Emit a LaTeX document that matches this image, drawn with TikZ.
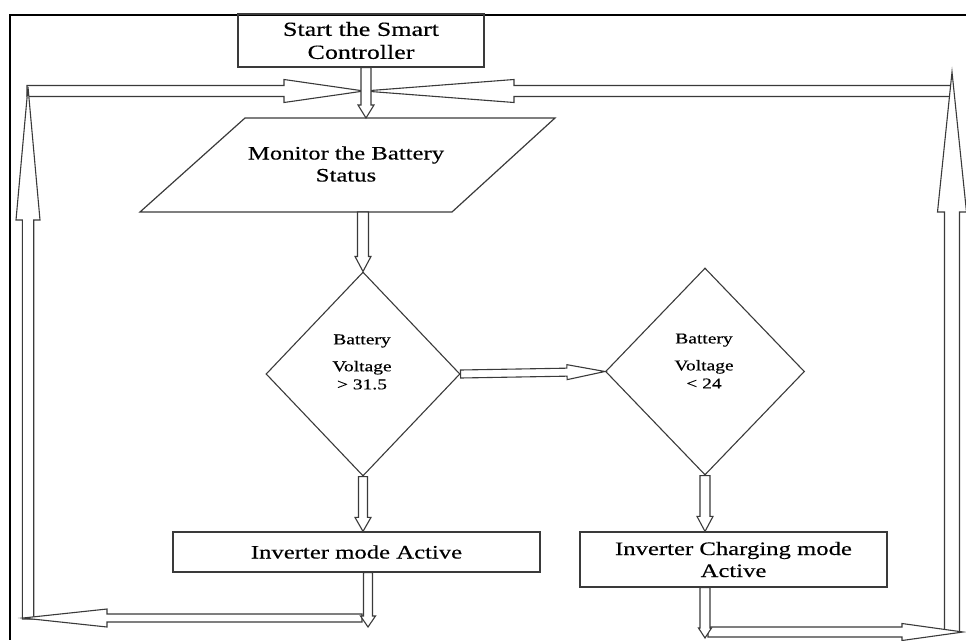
\documentclass[tikz,border=0pt]{standalone}
\usepackage{fontspec}
\setmainfont{Liberation Serif}[FakeStretch=1.3,FakeBold=0.4]
\usetikzlibrary{shapes.geometric,calc}
\definecolor{ln}{HTML}{3A3A3A}
\tikzset{
  box/.style={draw=ln, line width=1.2pt, rectangle, inner sep=0pt, align=center,
    font=\fontsize{19}{22}\selectfont},
  dia/.style={draw=ln, line width=1.1pt, diamond, inner sep=0pt},
  diatext/.style={align=center, inner sep=0pt, font=\fontsize{15}{18}\selectfont},
  arr/.style={draw=ln, line width=1.1pt, fill=white, line join=miter},
  framefull/.style={draw=black}
}
% hollow arrow: from, to, shaft half width, head half width, head length
\newcommand\harrow[5]{%
  \path[arr] let \p1=(#1), \p2=(#2),
    \n1={atan2(\y2-\y1,\x2-\x1)}, \n2={veclen(\x2-\x1,\y2-\y1)} in
    [shift={(\p1)}, rotate=\n1, x=1pt, y=1pt]
    (0,-#3) -- ({\n2-#5},-#3) -- ({\n2-#5},-#4) -- (\n2,0) --
    ({\n2-#5},#4) -- ({\n2-#5},#3) -- (0,#3) -- cycle;}
\begin{document}
\begin{tikzpicture}[x=1pt,y=-1pt]
\useasboundingbox (0,0) rectangle (966,640);

% frame
\draw[framefull, line width=2.5pt] (10,15) -- (966,15);
\draw[framefull, line width=1.5pt] (10,14) -- (10,640);

% nodes
\node[box, minimum width=246pt, minimum height=53pt, font=\fontsize{20}{23}\selectfont]
  (start) at (361,40.5) {Start the Smart\\Controller};
\draw[draw=ln, line width=1.2pt] (245,118) coordinate (monTL) -- (555,118) coordinate (monTR)
  -- (452,212) coordinate (monBR) -- (140,212) coordinate (monBL) -- cycle;
\node[align=center, font=\fontsize{19}{22}\selectfont] (monitor) at (346,164)
  {Monitor the Battery\\Status};
\coordinate (monT) at (366,118);
\coordinate (monB) at (363,212);

\node[dia, minimum width=194pt, minimum height=204pt] (d1) at (363,374) {};
\node[diatext] (d1t) at (362,362) {Battery\\[9pt]Voltage\\> 31.5};
\node[dia, minimum width=199pt, minimum height=207pt] (d2) at (705,371.5) {};
\node[diatext] (d2t) at (704,361) {Battery\\[9pt]Voltage\\< 24};

\node[box, minimum width=367pt, minimum height=40pt] (b1) at (356.5,552) {Inverter mode Active};
\node[box, minimum width=307pt, minimum height=55pt] (b2) at (733.5,559.5)
  {Inverter Charging mode\\Active};

% loop coordinates
\coordinate (TLs) at (27,91);
\coordinate (C) at (364,91);
\coordinate (TRs) at (951,91);
\coordinate (LVtip) at (28,87);
\coordinate (LVb) at (28,619);
\coordinate (RVt) at (952,72);
\coordinate (RVb) at (952,632);
\coordinate (B1tip) at (368,627);
\coordinate (BLs) at (362,618);
\coordinate (BLtip) at (23,618);
\coordinate (B2tip) at (705,638);
\coordinate (BRs) at (708,632);
\coordinate (BRtip) at (963,632);

% connectors
\harrow{TLs}{C}{5.5}{11.5}{80}
\harrow{TRs}{C}{5.5}{11.5}{150}
\harrow{LVb}{LVtip}{5.7}{12}{133}
\harrow{start.south -| monT}{monT}{5}{8}{13}
\harrow{monB -| d1.north}{d1.north}{5.5}{8}{15}
\harrow{d1.east}{d2.west}{4}{7.5}{38}
\harrow{d1.south}{d1.south |- b1.north}{4.5}{8}{14}
\harrow{d2.south}{d2.south |- b2.north}{5}{8}{15}
\harrow{BLs}{BLtip}{4}{9}{84}
\harrow{b1.south -| B1tip}{B1tip}{4.5}{7.5}{11}
\harrow{RVb}{RVt}{7.5}{14.5}{140}
\harrow{BRs}{BRtip}{5}{8.5}{61}
\harrow{b2.south -| B2tip}{B2tip}{5}{6.5}{10}
\end{tikzpicture}
\end{document}
